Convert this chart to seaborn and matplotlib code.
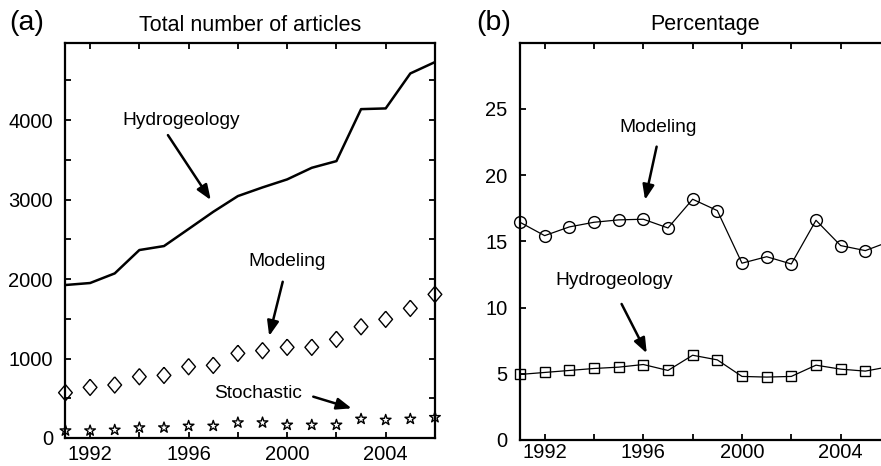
import matplotlib
matplotlib.use("Agg")
import matplotlib.pyplot as plt
import seaborn as sns
import pandas as pd

# Data
years = list(range(1991, 2007))
total_hydrogeology = [1925, 1950, 2071, 2365, 2415, 2630, 2846, 3044, 3153, 3254,
                      3400, 3484, 4138, 4147, 4587, 4730]
total_modeling = [570, 637, 667, 771, 788, 897, 914, 1065, 1099, 1141,
                  1141, 1241, 1400, 1493, 1631, 1807]
total_stochastic = [92, 92, 101, 130, 130, 151, 151, 193, 193, 164,
                    164, 164, 239, 226, 239, 260]
pct_modeling = [16.44, 15.43, 16.09, 16.44, 16.62, 16.67, 16.01, 18.18, 17.32, 13.35,
                13.84, 13.29, 16.59, 14.68, 14.30, 15.0]
pct_hydrogeology = [4.95, 5.1, 5.25, 5.4, 5.5, 5.7, 5.25, 6.4, 6.05, 4.8,
                    4.75, 4.8, 5.65, 5.35, 5.2, 5.55]

x_ticks = list(range(1992, 2007, 2))
x_ticklabels = ["1992", "", "1996", "", "2000", "", "2004", ""]
a_yticks = list(range(0, 5000, 500))
a_yticklabels = ["0", "", "1000", "", "2000", "", "3000", "", "4000", ""]
b_yticks = [0, 5, 10, 15, 20, 25]
b_yticklabels = ["0", "5", "10", "15", "20", "25"]

df_a = pd.DataFrame({"year": years, "hydro": total_hydrogeology,
                     "model": total_modeling, "stoch": total_stochastic})
df_b = pd.DataFrame({"year": years, "model": pct_modeling, "hydro": pct_hydrogeology})

sns.set_style("ticks")
plt.rcParams["font.family"] = ["Liberation Sans", "DejaVu Sans"]
plt.rcParams["text.color"] = "black"
plt.rcParams["xtick.color"] = "black"
plt.rcParams["ytick.color"] = "black"
plt.rcParams["axes.labelcolor"] = "black"
plt.rcParams["axes.linewidth"] = 1.6

fig = plt.figure(figsize=(8.81, 4.66), dpi=100)
ax_a = fig.add_axes([0.0743, 0.0601, 0.4194, 0.8476])
ax_b = fig.add_axes([0.5902, 0.0558, 0.4200, 0.8526])

arrow = dict(arrowstyle="-|>,head_length=0.9,head_width=0.35", color="black", lw=1.8,
             shrinkA=0, shrinkB=0)
diamond = [(0, 1), (0.85, 0), (0, -1), (-0.85, 0), (0, 1)]
lab = 13.8
tick_fs = 14.5

# Panel (a)
sns.lineplot(data=df_a, x="year", y="hydro", ax=ax_a, color="black", linewidth=1.8)
sns.scatterplot(data=df_a, x="year", y="model", ax=ax_a, marker=diamond, s=135,
                facecolor="none", edgecolor="black", linewidth=1.0, clip_on=False, zorder=3)
sns.scatterplot(data=df_a, x="year", y="stoch", ax=ax_a, marker="*", s=65,
                facecolor="none", edgecolor="black", linewidth=1.0, clip_on=False, zorder=3)
ax_a.set_xlim(1991, 2006)
ax_a.set_ylim(0, 4970)
ax_a.set_yticks(a_yticks)
ax_a.set_yticklabels(a_yticklabels)
ax_a.set_title("Total number of articles", fontsize=15.5, pad=9)
ax_a.annotate("Hydrogeology", xy=(1996.9, 2994), xytext=(1995.7, 4000),
              ha="center", va="center", fontsize=lab)
ax_a.annotate("", xy=(1996.9, 2994), xytext=(1995.16, 3811), arrowprops=arrow)
ax_a.annotate("Modeling", xy=(1999.27, 1283), xytext=(2000.0, 2218),
              ha="center", va="center", fontsize=lab)
ax_a.annotate("", xy=(1999.27, 1283), xytext=(1999.82, 1966), arrowprops=arrow)
ax_a.annotate("Stochastic", xy=(2002.62, 373), xytext=(1998.83, 562),
              ha="center", va="center", fontsize=lab)
ax_a.annotate("", xy=(2002.62, 373), xytext=(2001.06, 520), arrowprops=arrow)
fig.text(0.011, 0.950, "(a)", fontsize=20.5, ha="left", va="center")

# Panel (b)
sns.lineplot(data=df_b, x="year", y="model", ax=ax_b, color="black", linewidth=0.9,
             marker="o", markersize=8.5, markerfacecolor="none",
             markeredgecolor="black", markeredgewidth=1.0, clip_on=False)
sns.lineplot(data=df_b, x="year", y="hydro", ax=ax_b, color="black", linewidth=0.9,
             marker="s", markersize=7, markerfacecolor="none",
             markeredgecolor="black", markeredgewidth=1.0, clip_on=False)
ax_b.set_xlim(1991, 2006)
ax_b.set_ylim(0, 30)
ax_b.set_yticks(b_yticks)
ax_b.set_yticklabels(b_yticklabels)
ax_b.set_title("Percentage", fontsize=15.5, pad=9)
ax_b.annotate("Modeling", xy=(1996.07, 18.13), xytext=(1996.6, 23.59),
              ha="center", va="center", fontsize=lab)
ax_b.annotate("", xy=(1996.07, 18.13), xytext=(1996.54, 22.15), arrowprops=arrow)
ax_b.annotate("Hydrogeology", xy=(1996.14, 6.55), xytext=(1994.81, 12.03),
              ha="center", va="center", fontsize=lab)
ax_b.annotate("", xy=(1996.14, 6.55), xytext=(1995.12, 10.27), arrowprops=arrow)
fig.text(0.541, 0.950, "(b)", fontsize=20.5, ha="left", va="center")

for ax in (ax_a, ax_b):
    ax.set_xticks(x_ticks)
    ax.set_xticklabels(x_ticklabels)
    ax.set_xlabel("")
    ax.set_ylabel("")
    ax.tick_params(direction="in", top=True, right=True, length=4, width=1.3,
                   labelsize=tick_fs, color="black")
    ax.tick_params(axis="y", pad=9)
    for s in ax.spines.values():
        s.set_visible(True)
        s.set_linewidth(1.6)
        s.set_color("black")
ax_a.tick_params(axis="x", pad=5)
ax_b.tick_params(axis="x", pad=2.5)

fig.savefig("out.png", dpi=100)
